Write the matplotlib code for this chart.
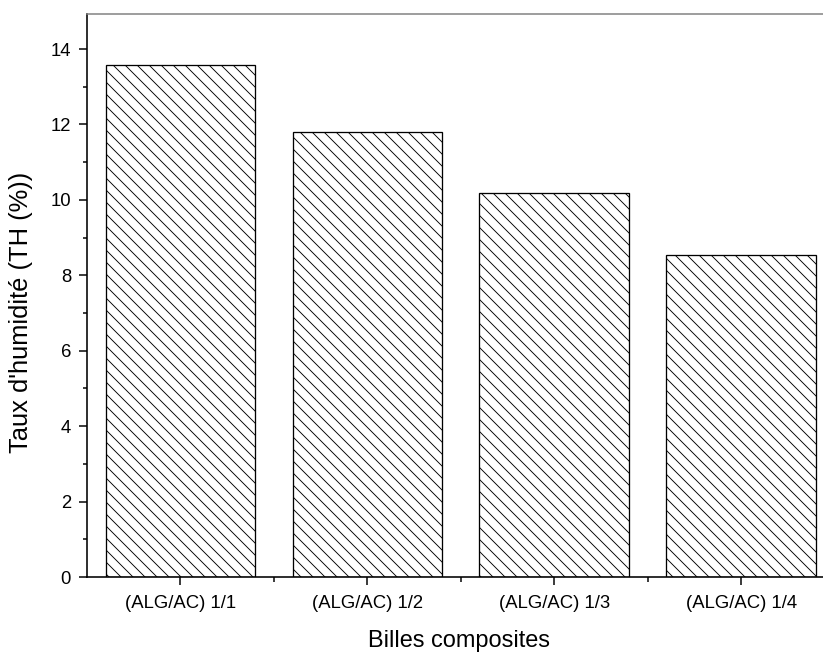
import numpy as np
import matplotlib.pyplot as plt
from matplotlib.ticker import MultipleLocator, FixedLocator

plt.rcParams['font.family'] = ['Liberation Sans', 'DejaVu Sans']
plt.rcParams['hatch.linewidth'] = 0.9

samples = ['(ALG/AC) 1/1', '(ALG/AC) 1/2', '(ALG/AC) 1/3', '(ALG/AC) 1/4']
humidity = [13.58, 11.80, 10.17, 8.55]

W, H = 823, 659
fig = plt.figure(figsize=(W/72, H/72), dpi=72)
ax = fig.add_axes([87/W, (H-577)/H, (834.5-87)/W, (577-14)/H])

x = np.arange(1, len(samples)+1)
ax.bar(x, humidity, width=0.8, color='white', edgecolor='black',
       linewidth=1.3, hatch='\\\\')

ax.set_xlim(0.5, 4.5)
ax.set_ylim(0, 14.93)

ax.set_xticks(x)
ax.set_xticklabels(samples, fontsize=18.5)
ax.xaxis.set_minor_locator(FixedLocator([1.5, 2.5, 3.5]))
ax.yaxis.set_major_locator(MultipleLocator(2))
ax.yaxis.set_minor_locator(MultipleLocator(1))
ax.tick_params(axis='y', labelsize=18.5)

ax.tick_params(which='major', direction='out', length=8, width=1.5, pad=8)
ax.tick_params(which='minor', direction='out', length=4.5, width=1.5)
ax.tick_params(axis='x', which='major', pad=10)

for side in ['left', 'bottom']:
    ax.spines[side].set_linewidth(1.6)
ax.spines['top'].set_color('#808080')
ax.spines['top'].set_linewidth(1.5)
ax.spines['right'].set_visible(False)

ax.set_xlabel('Billes composites', fontsize=23.5)
ax.xaxis.set_label_coords(0.498, -0.094)
ax.set_ylabel("Taux d'humidité (TH (%))", fontsize=25.5)
ax.yaxis.set_label_coords(-0.072, 0.47)

fig.savefig('out.png', dpi=72)
